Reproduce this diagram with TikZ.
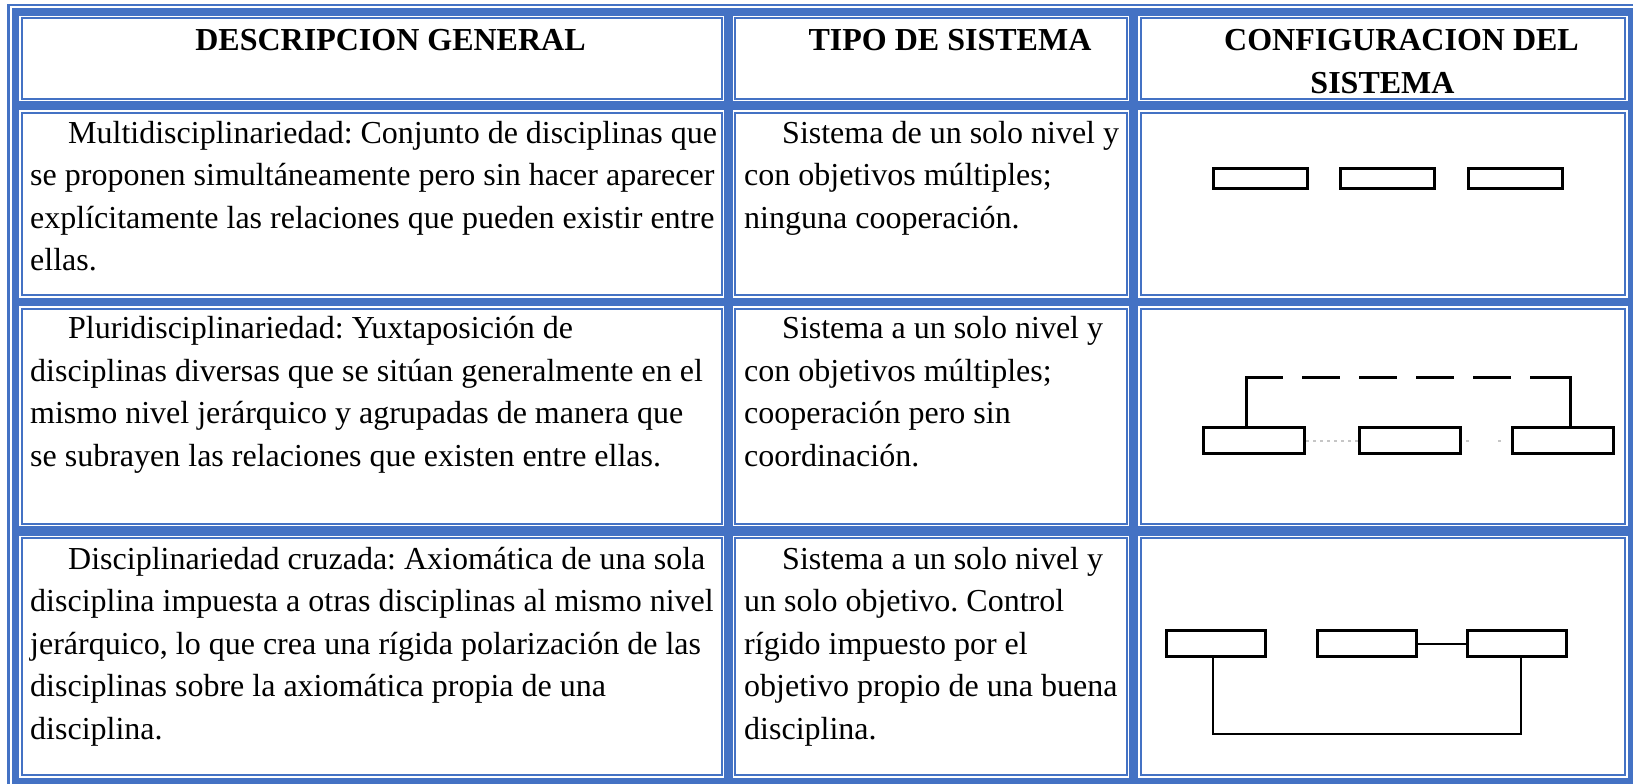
\documentclass[tikz,border=0pt]{standalone}
\usepackage{fontspec}
\setmainfont{Liberation Serif}
\usetikzlibrary{positioning}
\definecolor{tblue}{RGB}{68,114,196}
\newcommand\cellfont{\fontsize{32}{42.5}\selectfont\frenchspacing}
\newcommand\para[1]{\begin{tabular}[t]{@{}l@{}}#1\end{tabular}} % lines broken as in the reference
\tikzset{
cell/.style={draw=tblue, line width=2pt, fill=white, preaction={draw=white, line width=5pt}}, % white cell with thin blue frame
head/.style={font=\cellfont\bfseries, inner sep=0pt, anchor=base},
body/.style={font=\cellfont, inner sep=0pt, anchor=base west},
box/.style={draw, line width=3pt, inner sep=0pt},
link/.style={line width=3pt},
thinlink/.style={line width=2pt},
faint/.style={line width=2pt, gray!45, dash pattern=on 3pt off 4pt},
}

\begin{document}
\begin{tikzpicture}[x=1pt, y=-1pt]
        \useasboundingbox (0,0) rectangle (1633,784);
        % table frame
        \draw[tblue, line width=2.5pt] (8.5,784) -- (8.5,5) -- (1633,5);
        \fill[tblue] (11.7,8.3) rectangle (1633,784);
        \foreach \ya/\yb in {18.3/98.8, 112.8/295, 308.5/523.5, 538.3/775}
            \foreach \xa/\xb in {21.7/721.5, 735/1126.5, 1140.5/1625}
                \draw[cell] (\xa,\ya) rectangle (\xb,\yb);

        % headers
        \node[head] (hdesc) at (390.5,50.5) {DESCRIPCION GENERAL};
        \node[head] (htipo) at (950,50.5) {TIPO DE SISTEMA};
        \node[head] (hconf) at (1382.5,51) {\begin{tabular}[t]{@{}c@{}}\hspace*{38pt}CONFIGURACION DEL\\SISTEMA\end{tabular}};

        % descriptions
        \node[body] (desc1) at (30,143) {\para{\hspace*{38pt}Multidisciplinariedad: Conjunto de disciplinas que\\se proponen simultáneamente pero sin hacer aparecer\\explícitamente las relaciones que pueden existir entre\\ellas.}};
        \node[body] (desc2) at (30,338.5) {\para{\hspace*{38pt}Pluridisciplinariedad: Yuxtaposición de\\disciplinas diversas que se sitúan generalmente en el\\mismo nivel jerárquico y agrupadas de manera que\\se subrayen las relaciones que existen entre ellas.}};
        \node[body] (desc3) at (30,569) {\para{\hspace*{38pt}Disciplinariedad cruzada: Axiomática de una sola\\disciplina impuesta a otras disciplinas al mismo nivel\\jerárquico, lo que crea una rígida polarización de las\\disciplinas sobre la axiomática propia de una\\disciplina.}};

        % system types
        \node[body] (tipo1) at (744,143) {\para{\hspace*{38pt}Sistema de un solo nivel y\\con objetivos múltiples;\\ninguna cooperación.}};
        \node[body] (tipo2) at (744,338.5) {\para{\hspace*{38pt}Sistema a un solo nivel y\\con objetivos múltiples;\\cooperación pero sin\\coordinación.}};
        \node[body] (tipo3) at (744,569) {\para{\hspace*{38pt}Sistema a un solo nivel y\\un solo objetivo. Control\\rígido impuesto por el\\objetivo propio de una buena\\disciplina.}};

        % configuration 1
        \node[box, minimum width=94pt, minimum height=20pt] (a1) at (1260.5,178.5) {};
        \node[box, minimum width=94pt, minimum height=20pt, right=30pt of a1] (b1) {};
        \node[box, minimum width=94pt, minimum height=20pt, right=31pt of b1] (c1) {};

        % configuration 2
        \node[box, minimum width=101pt, minimum height=26pt] (a2) at (1254,440.5) {};
        \node[box, minimum width=101pt, minimum height=26pt, right=52pt of a2] (b2) {};
        \node[box, minimum width=101pt, minimum height=26pt, right=49pt of b2] (c2) {};
        \draw[link, dash pattern=on 86pt off 19pt on 38pt off 19pt on 38pt off 19pt on 38pt off 19pt on 38pt off 19pt on 90pt]
            ([xshift=-8pt]a2.north) -- ++(0,-49) -| ([xshift=7pt]c2.north);
        \draw[faint] (a2) -- (b2);
        \draw[faint, dash pattern=on 0pt off 4pt on 3pt off 29pt on 3pt off 20pt] (b2) -- (c2);

        % configuration 3
        \node[box, minimum width=99pt, minimum height=26pt] (a3) at (1216,643.5) {};
        \node[box, minimum width=99pt, minimum height=26pt, right=49pt of a3] (b3) {};
        \node[box, minimum width=99pt, minimum height=26pt, right=48pt of b3] (c3) {};
        \draw[thinlink] (b3) -- (c3);
        \draw[thinlink] ([xshift=-3pt]a3.south) -- ++(0,76) -| ([xshift=4pt]c3.south);
    \end{tikzpicture}
\end{document}
